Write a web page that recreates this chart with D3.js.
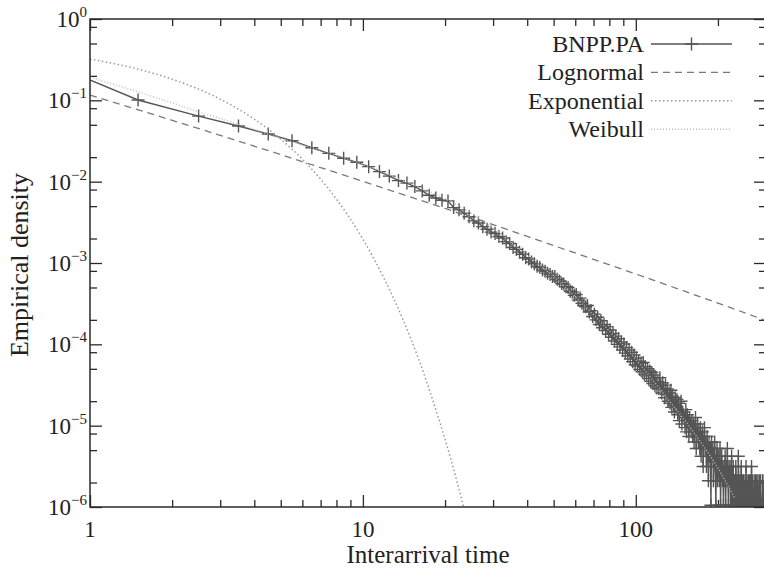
<!DOCTYPE html>
<html><head><meta charset="utf-8">
<script src="https://cdn.jsdelivr.net/npm/d3@7"></script>
<style>body{margin:0;background:#fff}svg{display:block}</style>
</head><body><svg id="c" width="764" height="571"></svg>
<script>
// ---------- DATA ----------
// Empirical density, histogram bins of width 1 centred at k+0.5
const bnppHead = [0.47, 0.101, 0.064, 0.0483, 0.0385, 0.0319, 0.0261, 0.0223, 0.0194, 0.0173,
  0.0153, 0.0133, 0.0117, 0.0103, 0.0096, 0.0087, 0.0077, 0.0068, 0.0063, 0.0059,
  0.0058, 0.0048, 0.0045, 0.0041, 0.0037, 0.0033, 0.0031, 0.0028, 0.0026, 0.0024]; // bins 0.5..29.5
const bnppMid = [2.30e-3, 2.12e-3, 2.03e-3, 1.83e-3, 1.74e-3, 1.55e-3, 1.47e-3, 1.36e-3, 1.28e-3, 1.16e-3,
  1.12e-3, 1.03e-3, 0.98e-3, 0.91e-3, 0.88e-3, 0.82e-3, 0.79e-3, 0.75e-3, 0.72e-3, 0.68e-3,
  0.68e-3, 0.63e-3, 0.60e-3, 0.56e-3, 0.55e-3, 0.51e-3, 0.50e-3, 0.45e-3, 0.44e-3, 0.40e-3,
  0.41e-3, 0.35e-3, 0.37e-3, 0.32e-3, 0.30e-3, 0.29e-3, 0.30e-3, 0.25e-3, 0.26e-3, 0.22e-3,
  0.235e-3, 0.20e-3, 0.215e-3, 0.175e-3, 0.195e-3, 0.16e-3, 0.175e-3, 0.148e-3, 0.165e-3, 0.133e-3,
  0.15e-3, 0.122e-3, 0.136e-3, 0.110e-3, 0.126e-3, 0.100e-3, 0.117e-3, 0.093e-3, 0.107e-3, 0.085e-3,
  0.101e-3, 0.078e-3, 0.091e-3, 0.072e-3, 0.085e-3, 0.066e-3, 0.080e-3, 0.061e-3, 0.074e-3, 0.056e-3,
  0.068e-3, 0.054e-3, 0.062e-3, 0.049e-3, 0.059e-3, 0.046e-3, 0.060e-3, 0.043e-3, 0.053e-3, 0.041e-3,
  0.050e-3, 0.038e-3, 0.047e-3, 0.035e-3, 0.045e-3, 0.033e-3, 0.042e-3, 0.031e-3, 0.039e-3, 0.029e-3]; // bins 30.5..119.5
const unitDensity = 1.05e-6; // density of a single event
const bnppTailCounts = [33, 27, 37, 30, 24, 32, 27, 21, 30, 23,
  27, 19, 24, 18, 26, 16, 22, 17, 14, 21,
  16, 20, 13, 18, 11, 15, 19, 10, 14, 13,
  12, 9, 15, 8, 13, 11, 7, 12, 10, 8,
  11, 7, 10, 6, 9, 12, 5, 8, 10, 6,
  8, 5, 9, 4, 7, 8, 3, 6, 9, 5,
  6, 3, 7, 5, 2, 6, 4, 5, 1, 6,
  4, 5, 2, 4, 6, 3, 1, 4, 5, 2,
  4, 3, 2, 5, 1, 3, 4, 2, 3, 1,
  3, 2, 4, 1, 3, 2, 5, 2, 1, 3,
  2, 3, 1, 2, 4, 1, 2, 3, 1, 2,
  2, 1, 3, 2, 1, 2, 1, 4, 2, 1,
  2, 1, 2, 3, 1, 1, 2, 1, 2, 1,
  1, 2, 1, 3, 1, 2, 1, 1, 2, 1,
  2, 1, 1, 2, 1, 3, 1, 2, 1, 1,
  1, 2, 1, 1, 2, 1, 1, 2, 1, 1,
  2, 1, 1, 1, 2, 1, 2, 1, 1, 1,
  1, 2, 1, 1, 1, 2, 1, 1, 2, 1]; // bins 120.5..299.5

const lognormalX = [1, 2, 3, 5, 7, 10, 15, 20, 30, 50, 70, 100, 150, 200, 300];
const lognormalY = [0.116, 0.0568, 0.0371, 0.0215, 0.0149, 0.0101, 0.00645, 0.00468, 0.00296, 0.00164, 0.00111, 7.33e-4, 4.53e-4, 3.21e-4, 1.96e-4];
const exponentialX = [1, 1.5, 2, 3, 4, 5, 6, 7, 8, 10, 12, 14, 16, 18, 20, 22, 24];
const exponentialY = [0.321, 0.242, 0.182, 0.1035, 0.0587, 0.0333, 0.0189, 0.01074, 0.0061, 1.96e-3, 6.3e-4, 2.04e-4, 6.6e-5, 2.1e-5, 6.8e-6, 2.2e-6, 7.1e-7];
const weibullX = [1, 1.5, 2, 2.5, 3.5, 5, 7, 10, 15, 20, 30, 40, 50, 70, 100, 130, 160, 200, 230];
const weibullY = [0.192, 0.127, 0.093, 0.072, 0.051, 0.034, 0.0243, 0.0163, 0.0094, 0.0062, 0.0027, 0.00125, 6.8e-4, 2.3e-4, 6.5e-5, 2.2e-5, 9e-6, 3e-6, 1.3e-6];

const xMajorTicks = [1, 10, 100];
const xMajorLabels = ["1", "10", "100"];
const xMinorTicks = [2, 3, 4, 5, 6, 7, 8, 9, 20, 30, 40, 50, 60, 70, 80, 90, 200, 300];
const yExponents = [0, -1, -2, -3, -4, -5, -6];
const yMinorMantissas = [2, 5, 8];
const legendLabels = ["BNPP.PA", "Lognormal", "Exponential", "Weibull"];

// ---------- CHART ----------
const m = {left: 90, top: 19, right: 766, bottom: 507};
const x = d3.scaleLog().domain([1, 300]).range([m.left, m.right]);
const y = d3.scaleLog().domain([1e-6, 1]).range([m.bottom, m.top]);
const svg = d3.select('#c');
const font = '"Liberation Serif", "DejaVu Serif", serif';
const axisColor = '#2a2a2a';

svg.append('defs').append('clipPath').attr('id', 'clip').append('rect')
  .attr('x', m.left).attr('y', m.top).attr('width', m.right - m.left).attr('height', m.bottom - m.top);

const bnppDensity = bnppHead.concat(bnppMid, bnppTailCounts.map(c => c * unitDensity));
const bnpp = bnppDensity.map((v, i) => ({x: i + 0.5, y: v}));
const yMajorVals = yExponents.map(e => Math.pow(10, e));
const yMinorVals = [];
yExponents.slice(1).forEach(e => yMinorMantissas.forEach(mm => yMinorVals.push(mm * Math.pow(10, e))));

function clean(g) {
  g.select('.domain').remove();
  g.selectAll('.tick text').remove();
  g.selectAll('.tick line').attr('stroke', axisColor).attr('stroke-width', 1.3);
}
svg.append('g').attr('transform', `translate(0,${m.bottom})`).call(d3.axisBottom(x).tickValues(xMajorTicks).tickSize(-12)).call(clean);
svg.append('g').attr('transform', `translate(0,${m.bottom})`).call(d3.axisBottom(x).tickValues(xMinorTicks).tickSize(-7)).call(clean);
svg.append('g').attr('transform', `translate(0,${m.top})`).call(d3.axisTop(x).tickValues(xMajorTicks).tickSize(-12)).call(clean);
svg.append('g').attr('transform', `translate(0,${m.top})`).call(d3.axisTop(x).tickValues(xMinorTicks).tickSize(-7)).call(clean);
svg.append('g').attr('transform', `translate(${m.left},0)`).call(d3.axisLeft(y).tickValues(yMajorVals).tickSize(-12)).call(clean);
svg.append('g').attr('transform', `translate(${m.left},0)`).call(d3.axisLeft(y).tickValues(yMinorVals).tickSize(-7)).call(clean);
svg.append('g').attr('transform', `translate(${m.right},0)`).call(d3.axisRight(y).tickValues(yMajorVals).tickSize(-12)).call(clean);
svg.append('g').attr('transform', `translate(${m.right},0)`).call(d3.axisRight(y).tickValues(yMinorVals).tickSize(-7)).call(clean);

svg.append('g').selectAll('text').data(xMajorTicks).join('text')
  .attr('x', d => x(d)).attr('y', 537).attr('text-anchor', 'middle')
  .attr('font-family', font).attr('font-size', 23).attr('fill', '#222')
  .text((d, i) => xMajorLabels[i]);
const yl = svg.append('g').selectAll('text').data(yExponents).join('text')
  .attr('x', 87).attr('y', d => y(Math.pow(10, d)) + 8).attr('text-anchor', 'end')
  .attr('font-family', font).attr('font-size', 23).attr('fill', '#222');
yl.append('tspan').text('10');
yl.append('tspan').attr('dy', -10).attr('font-size', 15).text(d => d === 0 ? '0' : '\u2212' + (-d));

svg.append('text').attr('x', (m.left + m.right) / 2).attr('y', 563).attr('text-anchor', 'middle')
  .attr('font-family', font).attr('font-size', 25).attr('fill', '#222').text('Interarrival time');
svg.append('text').attr('transform', `translate(28,${(m.top + m.bottom) / 2 + 2}) rotate(-90)`).attr('text-anchor', 'middle')
  .attr('font-family', font).attr('font-size', 26).attr('fill', '#222').text('Empirical density');

const plot = svg.append('g').attr('clip-path', 'url(#clip)');
const line = d3.line().x(d => x(d.x)).y(d => y(d.y));
const smooth = d3.line().x(d => x(d.x)).y(d => y(d.y)).curve(d3.curveMonotoneX);
const zipXY = (xs, ys) => xs.map((v, i) => ({x: v, y: ys[i]}));

plot.append('path').datum(bnpp).attr('d', line).attr('fill', 'none').attr('stroke', '#555').attr('stroke-width', 1.4);
plot.append('g').selectAll('path').data(bnpp).join('path')
  .attr('transform', d => `translate(${x(d.x)},${y(d.y)})`)
  .attr('d', 'M-6.5,0H6.5M0,-6.5V6.5').attr('stroke', '#555').attr('stroke-width', 1.4).attr('fill', 'none');

const styles = [
  {dash: '7,5', color: '#7a7a7a', w: 1.3},
  {dash: '1.5,2.5', color: '#9a9a9a', w: 1.5},
  {dash: '1,2', color: '#bdbdbd', w: 1.4}
];
plot.append('path').datum(zipXY(lognormalX, lognormalY)).attr('d', smooth).attr('fill', 'none')
  .attr('stroke', styles[0].color).attr('stroke-width', styles[0].w).attr('stroke-dasharray', styles[0].dash);
plot.append('path').datum(zipXY(exponentialX, exponentialY)).attr('d', smooth).attr('fill', 'none')
  .attr('stroke', styles[1].color).attr('stroke-width', styles[1].w).attr('stroke-dasharray', styles[1].dash);
plot.append('path').datum(zipXY(weibullX, weibullY)).attr('d', smooth).attr('fill', 'none')
  .attr('stroke', styles[2].color).attr('stroke-width', styles[2].w).attr('stroke-dasharray', styles[2].dash);

svg.append('rect').attr('x', m.left).attr('y', m.top).attr('width', m.right - m.left).attr('height', m.bottom - m.top)
  .attr('fill', 'none').attr('stroke', axisColor).attr('stroke-width', 1.5);

const lg = svg.append('g');
legendLabels.forEach((lab, i) => {
  const ly = 44 + i * 28.4;
  lg.append('text').attr('x', 644).attr('y', ly + 8).attr('text-anchor', 'end')
    .attr('font-family', font).attr('font-size', 24).attr('fill', '#222').text(lab);
  const s = lg.append('line').attr('x1', 651).attr('x2', 732).attr('y1', ly).attr('y2', ly).attr('fill', 'none');
  if (i === 0) {
    s.attr('stroke', '#555').attr('stroke-width', 1.4);
    lg.append('path').attr('transform', `translate(691.5,${ly})`).attr('d', 'M-6.5,0H6.5M0,-6.5V6.5')
      .attr('stroke', '#555').attr('stroke-width', 1.4);
  } else {
    const st = styles[i - 1];
    s.attr('stroke', st.color).attr('stroke-width', st.w).attr('stroke-dasharray', st.dash);
  }
});
</script></body></html>
